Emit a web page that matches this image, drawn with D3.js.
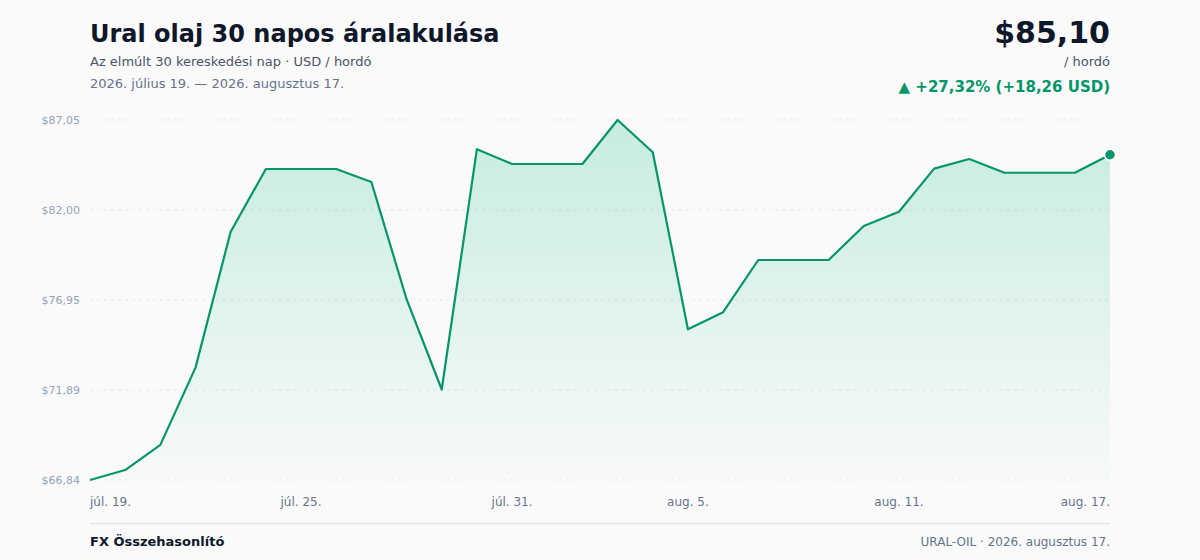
<!DOCTYPE html>
<html>
<head>
<meta charset="utf-8">
<script src="https://cdn.jsdelivr.net/npm/d3@7"></script>
<style>
  html, body { margin: 0; padding: 0; background: #fafafa; }
  body { font-family: "DejaVu Sans", sans-serif; }
</style>
</head>
<body>
<div id="chart"></div>
<script>
// 30 napos adatsor (USD / hordó)
var dates = ["júl. 19.","júl. 20.","júl. 21.","júl. 22.","júl. 23.","júl. 24.","júl. 25.","júl. 26.","júl. 27.","júl. 28.",
  "júl. 29.","júl. 30.","júl. 31.","aug. 1.","aug. 2.","aug. 3.","aug. 4.","aug. 5.","aug. 6.","aug. 7.",
  "aug. 8.","aug. 9.","aug. 10.","aug. 11.","aug. 12.","aug. 13.","aug. 14.","aug. 15.","aug. 16.","aug. 17."];
var prices = [66.84, 67.40, 68.81, 73.15, 80.78, 84.30, 84.30, 84.30, 83.57, 76.99,
  71.92, 85.41, 84.58, 84.58, 84.58, 87.05, 85.24, 75.30, 76.26, 79.19,
  79.19, 79.19, 81.10, 81.90, 84.32, 84.86, 84.09, 84.09, 84.09, 85.10];
var tickDates = ["júl. 19.","júl. 25.","júl. 31.","aug. 5.","aug. 11.","aug. 17."];
var yTicks = [66.84, 71.89, 76.95, 82.00, 87.05];

var svg_width = 1200, svg_height = 560;
var plotL = 90, plotR = 1110, plotT = 120, plotB = 480;
var green = "#059669";

var svg = d3.select("#chart").append("svg")
  .attr("width", svg_width)
  .attr("height", svg_height);

var fmt = function(v){ return v.toFixed(2).replace(".", ","); };

var x = d3.scalePoint().domain(dates).range([plotL, plotR]);
var y = d3.scaleLinear().domain(d3.extent(prices)).range([plotB, plotT]);

var data = dates.map(function(d, i){ return {date: d, price: prices[i]}; });

// gradient
var defs = svg.append("defs");
var grad = defs.append("linearGradient")
  .attr("id", "fillGrad")
  .attr("x1", 0).attr("y1", 0).attr("x2", 0).attr("y2", 1);
grad.append("stop").attr("offset", "0%").attr("stop-color", "#10b981").attr("stop-opacity", 0.22);
grad.append("stop").attr("offset", "100%").attr("stop-color", "#10b981").attr("stop-opacity", 0.01);

// header
svg.append("text").attr("x", 90).attr("y", 42)
  .attr("font-size", 24).attr("font-weight", "bold").attr("fill", "#0f172a")
  .text("Ural olaj 30 napos áralakulása");
svg.append("text").attr("x", 90).attr("y", 66)
  .attr("font-size", 13).attr("fill", "#475569")
  .text("Az elmúlt 30 kereskedési nap · USD / hordó");
svg.append("text").attr("x", 90).attr("y", 88)
  .attr("font-size", 13).attr("fill", "#64748b")
  .text("2026. július 19. — 2026. augusztus 17.");

svg.append("text").attr("x", 1110).attr("y", 43).attr("text-anchor", "end")
  .attr("font-size", 30).attr("font-weight", "bold").attr("fill", "#0f172a")
  .text("$" + fmt(prices[prices.length - 1]));
svg.append("text").attr("x", 1110).attr("y", 66).attr("text-anchor", "end")
  .attr("font-size", 13).attr("fill", "#475569")
  .text("/ hordó");
var diff = prices[prices.length - 1] - prices[0];
var pct = diff / prices[0] * 100;
svg.append("text").attr("x", 1110).attr("y", 92).attr("text-anchor", "end")
  .attr("font-size", 15).attr("font-weight", "bold").attr("fill", green)
  .text("▲ +" + fmt(pct) + "% (+" + fmt(diff) + " USD)");

// grid + y labels
svg.selectAll("line.grid")
  .data(yTicks)
  .enter()
  .append("line")
  .attr("class", "grid")
  .attr("x1", plotL).attr("x2", plotR)
  .attr("y1", function(d){ return y(d); })
  .attr("y2", function(d){ return y(d); })
  .attr("stroke", "#e5e7eb")
  .attr("stroke-dasharray", "3,4");

svg.selectAll("text.ylab")
  .data(yTicks)
  .enter()
  .append("text")
  .attr("class", "ylab")
  .attr("x", 80)
  .attr("y", function(d){ return y(d) + 4; })
  .attr("text-anchor", "end")
  .attr("font-size", 11)
  .attr("fill", "#94a3b8")
  .text(function(d){ return "$" + fmt(d); });

// area + line
var area = d3.area()
  .x(function(d){ return x(d.date); })
  .y0(plotB)
  .y1(function(d){ return y(d.price); });
var line = d3.line()
  .x(function(d){ return x(d.date); })
  .y(function(d){ return y(d.price); });

svg.append("path").datum(data)
  .attr("d", area)
  .attr("fill", "url(#fillGrad)");
svg.append("path").datum(data)
  .attr("d", line)
  .attr("fill", "none")
  .attr("stroke", green)
  .attr("stroke-width", 2.2)
  .attr("stroke-linejoin", "round");

var last = data[data.length - 1];
svg.append("circle")
  .attr("cx", x(last.date)).attr("cy", y(last.price))
  .attr("r", 5.5)
  .attr("fill", green)
  .attr("stroke", "#ffffff")
  .attr("stroke-width", 1.5);

// x labels
svg.selectAll("text.xlab")
  .data(tickDates)
  .enter()
  .append("text")
  .attr("class", "xlab")
  .attr("x", function(d){ return x(d); })
  .attr("y", 506)
  .attr("text-anchor", function(d, i){ return i == 0 ? "start" : (i == tickDates.length - 1 ? "end" : "middle"); })
  .attr("font-size", 12)
  .attr("fill", "#64748b")
  .text(function(d){ return d; });

// footer
svg.append("line")
  .attr("x1", 90).attr("x2", 1110)
  .attr("y1", 523.5).attr("y2", 523.5)
  .attr("stroke", "#e5e7eb")
  .attr("stroke-width", 1.5);
svg.append("text").attr("x", 90).attr("y", 546)
  .attr("font-size", 13).attr("font-weight", "bold").attr("fill", "#0f172a")
  .text("FX Összehasonlító");
svg.append("text").attr("x", 1110).attr("y", 546).attr("text-anchor", "end")
  .attr("font-size", 12).attr("fill", "#64748b")
  .text("URAL-OIL · 2026. augusztus 17.");
</script>
</body>
</html>
